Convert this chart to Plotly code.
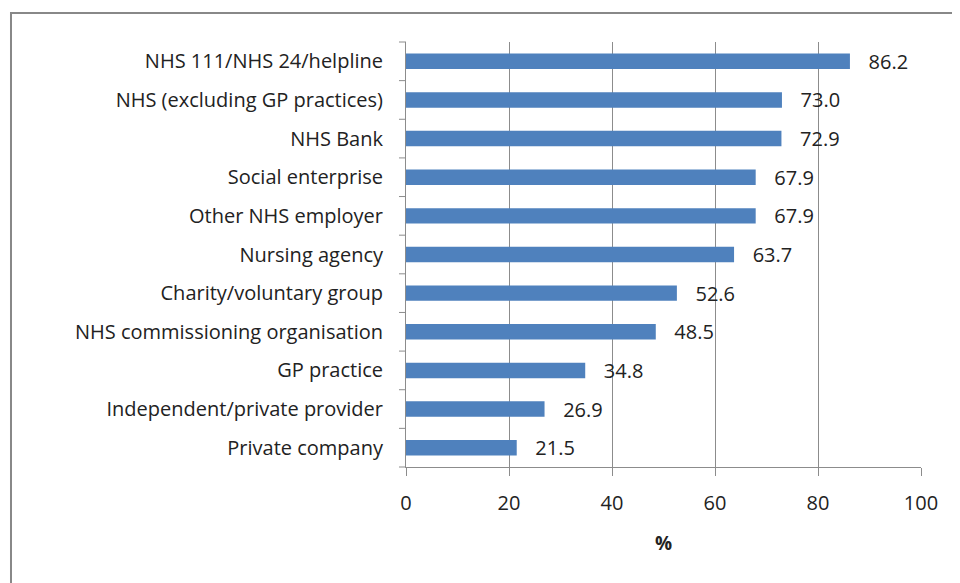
import plotly.graph_objects as go

categories = [
    "NHS 111/NHS 24/helpline",
    "NHS (excluding GP practices)",
    "NHS Bank",
    "Social enterprise",
    "Other NHS employer",
    "Nursing agency",
    "Charity/voluntary group",
    "NHS commissioning organisation",
    "GP practice",
    "Independent/private provider",
    "Private company",
]
values = [86.2, 73.0, 72.9, 67.9, 67.9, 63.7, 52.6, 48.5, 34.8, 26.9, 21.5]
x_ticks = [0, 20, 40, 60, 80, 100]

font_name = "Open Sans"

fig = go.Figure()
fig.add_trace(go.Bar(
    x=values, y=categories, orientation="h",
    marker=dict(color="#4F81BD", line=dict(width=0)),
    text=["   " + f"{v:.1f}" for v in values],
    textposition="outside", cliponaxis=False, constraintext="none",
    textfont=dict(family=font_name, size=20, color="#222222"),
))

# the page body adds an 8px offset, so margins are shifted to compensate
fig.update_layout(
    width=960, height=583,
    plot_bgcolor="white", paper_bgcolor="white",
    margin=dict(l=398, r=47, t=34, b=124),
    bargap=0.6, showlegend=False,
    font=dict(family=font_name, size=20, color="#222222"),
)
fig.update_xaxes(
    range=[0, 100], tickvals=x_ticks, showgrid=True, gridcolor="#8c8c8c", gridwidth=1,
    showline=True, linecolor="#8c8c8c", linewidth=1, ticks="outside", ticklen=8,
    tickcolor="#8c8c8c", ticklabelstandoff=10, zeroline=False,
    title=dict(text="<b>%</b>", font=dict(size=19), standoff=21),
)
fig.update_yaxes(
    autorange="reversed", showline=True, linecolor="#8c8c8c", linewidth=1,
    ticks="", ticklabelstandoff=18, showgrid=False,
)

# category boundary tick marks on the y axis
n = len(categories)
for i in range(n + 1):
    fig.add_shape(type="line", xref="paper", yref="paper",
                  x0=-0.0136, x1=0, y0=i / n, y1=i / n,
                  line=dict(color="#8c8c8c", width=1))

# outer chart border
fig.add_shape(type="rect", xref="paper", yref="paper",
              x0=-0.767, x1=1.5, y0=-1.0, y1=1.068,
              line=dict(color="#888888", width=2), fillcolor="rgba(0,0,0,0)")

fig.write_html("out.html")
